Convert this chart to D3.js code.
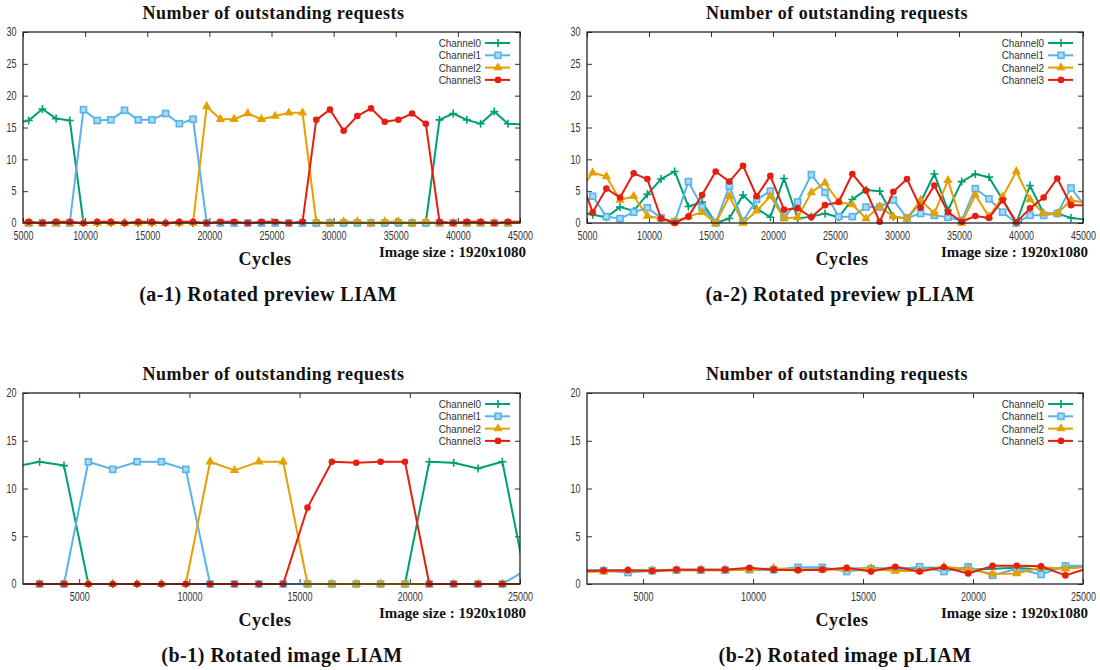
<!DOCTYPE html>
<html><head><meta charset="utf-8">
<script src="https://cdn.jsdelivr.net/npm/d3@7"></script>
<style>body{margin:0;background:#fff} svg{display:block}</style>
</head><body>
<svg id="c" width="1100" height="670"></svg>
<script>
// ---------- data ----------
const channels = ["Channel0", "Channel1", "Channel2", "Channel3"];
const colors = ["#009e73", "#56b4e9", "#e69f00", "#e51e10"];
const chartTitle = "Number of outstanding requests";
const xLabel = "Cycles";
const imageSizeNote = "Image size : 1920x1080";
const captions = ["(a-1) Rotated preview LIAM", "(a-2) Rotated preview pLIAM",
                  "(b-1) Rotated image LIAM", "(b-2) Rotated image pLIAM"];

const xTicksA = [5000, 10000, 15000, 20000, 25000, 30000, 35000, 40000, 45000];
const yTicksA = [0, 5, 10, 15, 20, 25, 30];
const xTicksB = [5000, 10000, 15000, 20000, 25000];
const yTicksB = [0, 5, 10, 15, 20];
const xDomainA = [5000, 45000];
const yDomainA = [0, 30];
const xDomainB = [2450, 25000];
const yDomainB = [0, 20];

const cyclesA = [4358, 5460, 6562, 7664, 8766, 9868, 10970, 12072, 13174, 14276,
  15378, 16480, 17582, 18684, 19786, 20888, 21990, 23092, 24194, 25296,
  26398, 27500, 28602, 29704, 30806, 31908, 33010, 34112, 35214, 36316,
  37418, 38520, 39622, 40724, 41826, 42928, 44030, 45132];

const a1Ch0 = [15.6, 16.1, 17.9, 16.4, 16.1, 0, 0, 0, 0, 0, 0, 0, 0, 0, 0, 0, 0, 0, 0, 0,
  0, 0, 0, 0, 0, 0, 0, 0, 0, 0, 0, 16.2, 17.2, 16.2, 15.6, 17.5, 15.6, 15.5];
const a1Ch1 = [0, 0, 0, 0, 0, 17.8, 16.1, 16.2, 17.7, 16.2, 16.2, 17.2, 15.6, 16.3, 0, 0, 0, 0, 0, 0,
  0, 0, 0, 0, 0, 0, 0, 0, 0, 0, 0, 0, 0, 0, 0, 0, 0, 0];
const a1Ch2 = [0, 0, 0, 0, 0, 0, 0, 0, 0, 0, 0, 0, 0, 0, 18.3, 16.3, 16.3, 17.2, 16.3, 16.8,
  17.3, 17.3, 0.2, 0, 0.2, 0.2, 0, 0.2, 0.2, 0, 0.2, 0, 0, 0, 0, 0, 0, 0];
const a1Ch3 = [0, 0.2, 0, 0.2, 0.2, 0, 0.2, 0.2, 0, 0.2, 0.2, 0, 0.2, 0.2, 0, 0.2, 0.2, 0, 0.2, 0.2,
  0, 0.2, 16.2, 17.8, 14.5, 16.8, 18.0, 15.9, 16.2, 17.2, 15.6, 0.2, 0, 0.2, 0.2, 0, 0.2, 0.2];

const a2Ch0 = [1.8, 1.3, 0.9, 2.5, 1.9, 4.5, 6.9, 8.1, 2.6, 3.3, 0, 0.7, 4.4, 2.3, 0.9, 7.0, 0.7, 1.0, 1.5, 0.9,
  3.7, 5.2, 5.0, 1.0, 0.7, 3.3, 7.7, 2.0, 6.5, 7.7, 7.2, 3.7, 0, 5.9, 1.5, 1.5, 0.8, 0.55];
const a2Ch1 = [2.8, 4.2, 1.0, 0.7, 1.7, 2.4, 0.8, 0.2, 6.5, 2.5, 0, 5.8, 0.3, 3.7, 5.0, 0.9, 3.3, 7.6, 4.8, 1.0,
  1.0, 2.5, 2.5, 3.6, 0.8, 1.5, 1.2, 0.9, 0.4, 5.4, 3.8, 1.7, 0, 1.2, 1.2, 1.5, 5.5, 2.7];
const a2Ch2 = [5.0, 7.9, 7.3, 3.6, 4.2, 1.1, 0.7, 0.2, 1.0, 1.7, 0, 4.2, 0, 1.9, 4.2, 0.7, 0.9, 4.8, 6.3, 3.3,
  2.9, 0.7, 2.6, 1.0, 0.7, 3.6, 1.5, 6.7, 0, 4.4, 1.0, 4.1, 8.1, 3.7, 1.5, 1.5, 3.6, 3.15];
const a2Ch3 = [7.45, 1.7, 5.4, 4.0, 7.8, 6.9, 0.7, 0, 1.0, 4.4, 8.1, 6.5, 9.0, 4.2, 7.4, 2.1, 2.3, 0.9, 2.8, 3.3,
  7.7, 5.1, 0.2, 4.9, 6.9, 2.4, 5.9, 1.7, 0.2, 1.1, 0.8, 3.6, 0.1, 2.3, 4.0, 7.0, 2.8, 2.8];

const cyclesB = [2100, 3205, 4310, 5415, 6520, 7625, 8730, 9835, 10940, 12045, 13150,
  14255, 15360, 16465, 17570, 18675, 19780, 20885, 21990, 23095, 24200, 25305];

const b1Ch0 = [12.3, 12.8, 12.4, 0, 0, 0, 0, 0, 0, 0, 0, 0, 0, 0, 0, 0, 0, 12.8, 12.7, 12.1, 12.8, 0];
const b1Ch1 = [0, 0, 0, 12.8, 12.0, 12.8, 12.8, 12.0, 0, 0, 0, 0, 0, 0, 0, 0, 0, 0, 0, 0, 0, 1.5];
const b1Ch2 = [0, 0, 0, 0, 0, 0, 0, 0, 12.8, 11.9, 12.8, 12.8, 0, 0, 0, 0, 0, 0, 0, 0, 0, 0];
const b1Ch3 = [0, 0, 0, 0, 0, 0, 0, 0, 0, 0, 0, 0, 8.0, 12.8, 12.7, 12.8, 12.8, 0, 0, 0, 0, 0];

const b2Ch0 = [1.4, 1.45, 1.4, 1.45, 1.5, 1.5, 1.5, 1.55, 1.5, 1.5, 1.55, 1.6, 1.65, 1.6, 1.7, 1.7, 1.5, 1.6, 1.7, 1.5, 1.7, 1.85];
const b2Ch1 = [1.4, 1.4, 1.2, 1.4, 1.45, 1.45, 1.45, 1.5, 1.5, 1.75, 1.75, 1.3, 1.6, 1.5, 1.8, 1.3, 1.8, 0.9, 1.6, 1.0, 1.9, 1.9];
const b2Ch2 = [1.25, 1.3, 1.4, 1.4, 1.45, 1.45, 1.45, 1.5, 1.65, 1.5, 1.5, 1.55, 1.6, 1.35, 1.35, 1.8, 1.55, 1.05, 1.1, 1.75, 1.6, 1.8];
const b2Ch3 = [1.4, 1.4, 1.45, 1.35, 1.5, 1.5, 1.5, 1.7, 1.5, 1.45, 1.5, 1.7, 1.3, 1.8, 1.3, 1.75, 1.1, 1.9, 1.9, 1.85, 0.9, 1.7];

// ---------- layout ----------
const svg = d3.select("#c");
const serif = "'Liberation Serif','Times New Roman',serif";
const sans = "'Liberation Sans',Arial,sans-serif";

const panels = [
  {id: "a1", L: 23, R: 520, T: 32, B: 223, xs: cyclesA, series: [a1Ch0, a1Ch1, a1Ch2, a1Ch3],
   xd: xDomainA, yd: yDomainA, xt: xTicksA, yt: yTicksA, cap: captions[0], capX: 268, cyX: 265, noteR: 526, row: 0},
  {id: "a2", L: 587, R: 1083, T: 32, B: 223, xs: cyclesA, series: [a2Ch0, a2Ch1, a2Ch2, a2Ch3],
   xd: xDomainA, yd: yDomainA, xt: xTicksA, yt: yTicksA, cap: captions[1], capX: 840, cyX: 842, noteR: 1088, row: 0},
  {id: "b1", L: 23, R: 520, T: 393, B: 584, xs: cyclesB, series: [b1Ch0, b1Ch1, b1Ch2, b1Ch3],
   xd: xDomainB, yd: yDomainB, xt: xTicksB, yt: yTicksB, cap: captions[2], capX: 282, cyX: 265, noteR: 526, row: 1},
  {id: "b2", L: 587, R: 1083, T: 393, B: 584, xs: cyclesB, series: [b2Ch0, b2Ch1, b2Ch2, b2Ch3],
   xd: xDomainB, yd: yDomainB, xt: xTicksB, yt: yTicksB, cap: captions[3], capX: 845, cyX: 842, noteR: 1088, row: 1}
];

function marker(g, k, color) {
  if (k === 0) {
    g.append("path").attr("d", "M-4,0H4M0,-4V4").attr("stroke", color).attr("stroke-width", 1.6).attr("fill", "none");
  } else if (k === 1) {
    g.append("rect").attr("x", -3).attr("y", -3).attr("width", 6).attr("height", 6)
      .attr("fill", "#a9daf5").attr("stroke", color).attr("stroke-width", 1.6);
  } else if (k === 2) {
    g.append("path").attr("d", d3.symbol(d3.symbolTriangle, 38)()).attr("fill", color);
  } else {
    g.append("circle").attr("r", 3.3).attr("fill", color);
  }
}

panels.forEach(p => {
  const x = d3.scaleLinear().domain(p.xd).range([p.L, p.R]);
  const y = d3.scaleLinear().domain(p.yd).range([p.B, p.T]);
  const g = svg.append("g");
  const off = p.row === 0 ? 0 : 361;

  svg.append("clipPath").attr("id", "clip-" + p.id)
    .append("rect").attr("x", p.L).attr("y", p.T - 6).attr("width", p.R - p.L).attr("height", p.B - p.T + 12);

  const ax = g.append("g").attr("transform", `translate(0,${p.B})`)
    .call(d3.axisBottom(x).tickValues(p.xt).tickSizeInner(-5).tickSizeOuter(0).tickPadding(8).tickFormat(d3.format("d")));
  const axT = g.append("g").attr("transform", `translate(0,${p.T})`)
    .call(d3.axisTop(x).tickValues(p.xt).tickSizeInner(-5).tickSizeOuter(0).tickFormat(""));
  const ay = g.append("g").attr("transform", `translate(${p.L},0)`)
    .call(d3.axisLeft(y).tickValues(p.yt).tickSizeInner(-5).tickSizeOuter(0).tickPadding(9).tickFormat(d3.format("d")));
  const ayR = g.append("g").attr("transform", `translate(${p.R},0)`)
    .call(d3.axisRight(y).tickValues(p.yt).tickSizeInner(-5).tickSizeOuter(0).tickFormat(""));
  [ax, axT, ay, ayR].forEach(a => {
    a.select(".domain").remove();
    a.selectAll(".tick line").attr("stroke", "#333").attr("stroke-width", 1);
    a.selectAll("text").attr("font-family", sans).attr("font-size", 12.5).attr("fill", "#333")
      .attr("transform", "scale(0.72,1)");
  });
  ay.selectAll("text").attr("dy", "0.3em");

  const line = d3.line().x((d, i) => x(p.xs[i])).y(d => y(d));
  const plot = g.append("g").attr("clip-path", `url(#clip-${p.id})`);
  p.series.forEach((vals, k) => {
    const sg = plot.append("g");
    sg.append("path").datum(vals).attr("d", line).attr("fill", "none")
      .attr("stroke", colors[k]).attr("stroke-width", 2).attr("stroke-linejoin", "round");
    vals.forEach((v, i) => {
      const xv = p.xs[i];
      if (xv < p.xd[0] || xv > p.xd[1]) return;
      const mg = sg.append("g").attr("transform", `translate(${x(xv)},${y(v)})`);
      marker(mg, k, colors[k]);
    });
  });

  g.append("rect").attr("x", p.L).attr("y", p.T).attr("width", p.R - p.L).attr("height", p.B - p.T)
    .attr("fill", "none").attr("stroke", "#222").attr("stroke-width", 1.3);

  // legend
  channels.forEach((name, k) => {
    const ly = p.T + 11 + 12.3 * k;
    g.append("text").attr("transform", `translate(${p.R - 39},${ly + 4}) scale(0.9,1)`)
      .attr("text-anchor", "end").attr("font-family", sans).attr("font-size", 11).attr("fill", "#333")
      .text(name);
    g.append("line").attr("x1", p.R - 35).attr("x2", p.R - 10).attr("y1", ly).attr("y2", ly)
      .attr("stroke", colors[k]).attr("stroke-width", 2);
    const mg = g.append("g").attr("transform", `translate(${p.R - 22},${ly})`);
    marker(mg, k, colors[k]);
  });

  const cx = (p.L + p.R) / 2;
  g.append("text").attr("x", cx + 2).attr("y", 19 + off).attr("text-anchor", "middle")
    .attr("font-family", serif).attr("font-weight", "bold").attr("font-size", 18).attr("letter-spacing", 0.5)
    .attr("fill", "#111").text(chartTitle);
  g.append("text").attr("x", p.cyX).attr("y", 265 + off).attr("text-anchor", "middle")
    .attr("font-family", serif).attr("font-weight", "bold").attr("font-size", 18).attr("letter-spacing", 0.5)
    .attr("fill", "#111").text(xLabel);
  g.append("text").attr("x", p.noteR).attr("y", 257 + off).attr("text-anchor", "end")
    .attr("font-family", serif).attr("font-weight", "bold").attr("font-size", 15)
    .attr("fill", "#111").text(imageSizeNote);
  g.append("text").attr("x", p.capX).attr("y", 301 + off).attr("text-anchor", "middle")
    .attr("font-family", serif).attr("font-weight", "bold").attr("font-size", 20).attr("letter-spacing", 0.5)
    .attr("fill", "#111").text(p.cap);
});
</script>
</body></html>
